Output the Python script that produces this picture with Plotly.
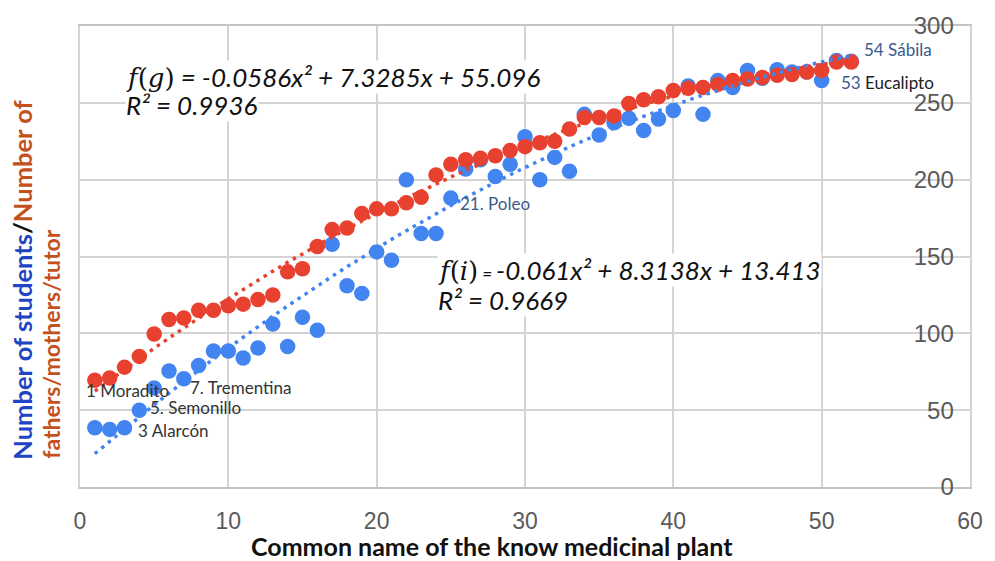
import plotly.graph_objects as go

plant_index = list(range(1, 53))

parents = [69.5, 71, 78, 85, 99.5, 109, 110, 115, 115, 118,
           119, 122, 125, 140, 142, 156.5, 167.5, 168.5, 178, 181,
           181, 185, 188.5, 203, 210, 213, 214, 215.5, 219, 221.5,
           224, 225, 233, 240.5, 240.5, 241.5, 249.5, 252, 254, 258,
           259.5, 260, 262, 264.5, 265.5, 266.5, 268, 268.5, 270, 271,
           276.5, 276.5]

students = [38.5, 37.5, 38.5, 50, 64.5, 75.5, 70.5, 79, 88.5, 88.5,
            84, 90.5, 106, 91.5, 110.5, 102, 158, 131, 126, 153,
            147.5, 200, 165, 165, 188, 207, 213, 202, 210, 228,
            200, 214.5, 205.5, 242.5, 229, 237, 240, 232, 239.5, 245,
            261, 242.5, 264.5, 260, 271, 266, 271.5, 270, 270, 264.5,
            277.5, 277]

fit_parents = [-0.0586, 7.3285, 55.096]
fit_students = [-0.061, 8.3138, 13.413]

x_ticks = [0, 10, 20, 30, 40, 50, 60]
y_ticks = [0, 50, 100, 150, 200, 250, 300]

RED = "#e8412f"
BLUE = "#4285f0"


def poly(c, xs):
    return [c[0] * x * x + c[1] * x + c[2] for x in xs]


fig = go.Figure()
fig.add_trace(go.Scatter(x=plant_index, y=students, mode="markers",
                         marker=dict(color=BLUE, size=15.5), showlegend=False))
fig.add_trace(go.Scatter(x=plant_index, y=parents, mode="markers",
                         marker=dict(color=RED, size=15.5), showlegend=False))
fig.add_trace(go.Scatter(x=plant_index, y=poly(fit_parents, plant_index), mode="lines",
                         line=dict(color=RED, width=3.5, dash="3.5px,5px"), showlegend=False))
fig.add_trace(go.Scatter(x=plant_index, y=poly(fit_students, plant_index), mode="lines",
                         line=dict(color=BLUE, width=3.5, dash="3.5px,5px"), showlegend=False))

eq_font = dict(family="Lato", size=26, color="#111111")
serif = "<span style='font-family:DejaVu Serif'>"

# R² boxes first so the equation lines (with descenders) are drawn on top
anns = [
    dict(x=3.0, y=248.5, text="<i>R² = 0.9936</i>", font=eq_font),
    dict(x=3.0, y=267, text=serif + "<i>f</i>(<i>g</i>)</span><i> = -0.0586x² + 7.3285x + 55.096</i>",
         font=eq_font),
    dict(x=24.1, y=121.5, text="<i>R² = 0.9669</i>", font=eq_font),
    dict(x=24.1, y=141.5, text=serif + "<i>f</i>(<i>i</i>)</span><i><span style='font-size:17px'> = </span>-0.061x² + 8.3138x + 13.413</i>",
         font=eq_font),
]
for a in anns:
    a.update(xref="x", yref="y", xanchor="left", yanchor="middle", showarrow=False,
             bgcolor="white", borderpad=0)

point_labels = [
    (0.3, 62.5, "1 Moradito", "#333333"),
    (3.75, 36.5, "3 Alarcón", "#333333"),
    (4.6, 52, "5. Semonillo", "#333333"),
    (7.25, 65, "7. Trementina", "#333333"),
    (25.5, 184.5, "21. Poleo", "#3a5a8c"),
    (52.7, 284.5, "54 Sábila", "#3a5a8c"),
    (51.2, 263, "<span style='color:#3a5a8c'>53</span> Eucalipto", "#222222"),
]
for x, y, t, c in point_labels:
    anns.append(dict(x=x, y=y, xref="x", yref="y", text=t, showarrow=False,
                     xanchor="left", yanchor="middle",
                     font=dict(family="Lato", size=17, color=c)))

anns.append(dict(
    x=-0.0645, y=0.054, xref="paper", yref="paper", textangle=-90,
    xanchor="center", yanchor="bottom", showarrow=False,
    text="<span style='color:#1f44c4'>Number of students</span>"
         "<span style='color:#111111'>/</span>"
         "<span style='color:#c4501c'>Number of</span>",
    font=dict(family="Lato", size=25.5, weight="bold")))
anns.append(dict(
    x=-0.0325, y=0.056, xref="paper", yref="paper", textangle=-90,
    xanchor="center", yanchor="bottom", showarrow=False,
    text="<span style='color:#c4501c'>fathers/mothers/tutor</span>",
    font=dict(family="Lato", size=23, weight="bold")))

anns.append(dict(
    x=0.4626, y=-0.127, xref="paper", yref="paper", showarrow=False,
    xanchor="center", yanchor="middle",
    text="<b>Common name of the know medicinal plant</b>",
    font=dict(family="Lato", size=25, color="#111111")))

fig.update_layout(
    width=995, height=561,
    margin=dict(l=80, r=20, t=25, b=74),
    paper_bgcolor="white", plot_bgcolor="white",
    annotations=anns,
    xaxis=dict(range=[0, 60], tickvals=x_ticks, showgrid=True, gridcolor="#d4d4d4", gridwidth=2,
               zeroline=False, showline=True, linecolor="#c4c4c4", linewidth=2, mirror=True,
               ticks="outside", ticklen=12, tickcolor="rgba(0,0,0,0)", ticklabeloverflow="allow",
               tickfont=dict(family="Liberation Sans", size=23, color="#5a5a5a")),
    yaxis=dict(range=[0, 300], tickvals=y_ticks, side="right", ticklabelposition="inside",
               showgrid=True, gridcolor="#d4d4d4", gridwidth=2, zeroline=False,
               showline=True, linecolor="#d4d4d4", linewidth=2, mirror=True,
               ticks="inside", ticklen=18, tickcolor="rgba(0,0,0,0)", ticklabeloverflow="allow",
               tickfont=dict(family="Liberation Sans", size=24, color="#5a5a5a")),
)
fig.write_html("out.html", config={"displayModeBar": False},
               post_script="document.body.style.margin='0px';")
